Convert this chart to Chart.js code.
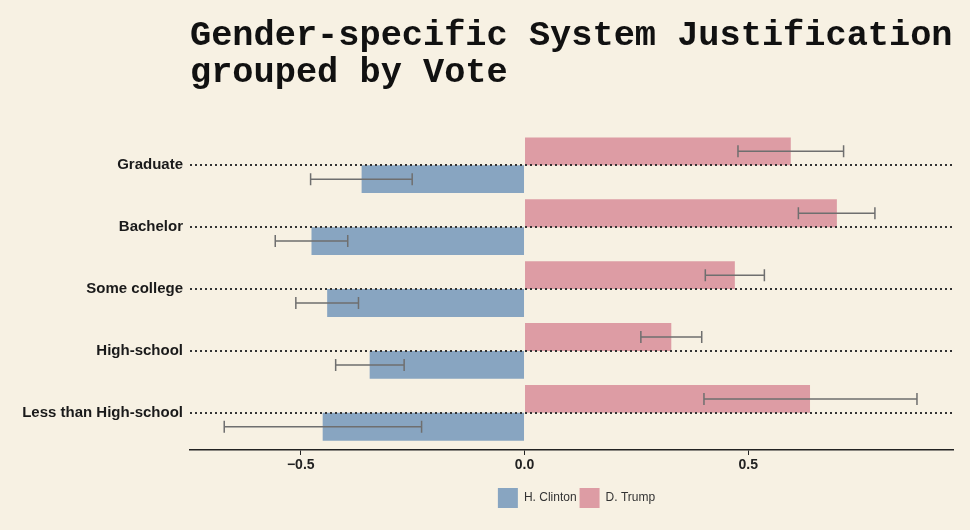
<!DOCTYPE html>
<html><head><meta charset="utf-8">
<script src="https://cdn.jsdelivr.net/npm/chart.js@4"></script>
<style>
html,body{margin:0;padding:0;background:#f7f1e3;}
canvas{display:block}
</style></head><body>
<canvas id="c" width="970" height="530"></canvas>
<script>
const categories = ['Graduate', 'Bachelor', 'Some college', 'High-school', 'Less than High-school'];
const seriesNames = ['H. Clinton', 'D. Trump'];
const clintonValues = [-0.364, -0.476, -0.441, -0.346, -0.451];
const clintonLower  = [-0.478, -0.557, -0.511, -0.422, -0.671];
const clintonUpper  = [-0.251, -0.395, -0.371, -0.269, -0.230];
const trumpValues   = [0.595, 0.698, 0.470, 0.328, 0.638];
const trumpLower    = [0.477, 0.612, 0.404, 0.260, 0.401];
const trumpUpper    = [0.713, 0.783, 0.536, 0.396, 0.877];
const xTicks = [-0.5, 0, 0.5];
const titleLines = ['Gender-specific System Justification', 'grouped by Vote'];

const BG = '#f7f1e3';
const errorRanges = [[trumpLower, trumpUpper], [clintonLower, clintonUpper]];

const bgPlugin = {
  id: 'bg',
  beforeDraw(chart) {
    const ctx = chart.ctx;
    ctx.save();
    ctx.fillStyle = BG;
    ctx.fillRect(0, 0, chart.width, chart.height);
    ctx.restore();
  }
};

const alignPlugin = {
  id: 'alignBoxes',
  afterLayout(chart) {
    const ca = chart.chartArea;
    const t = chart.titleBlock;
    if (t) { t.left = ca.left; t.right = chart.width; t.width = t.right - t.left; }
    const l = chart.legend;
    if (l) { l.left = ca.left + 5; l.right = ca.right + 5; l.width = ca.right - ca.left; }
  }
};

const errorPlugin = {
  id: 'errorBars',
  afterDatasetsDraw(chart) {
    const ctx = chart.ctx;
    const xs = chart.scales.x;
    ctx.save();
    ctx.strokeStyle = '#6f6f6f';
    ctx.lineWidth = 1.5;
    chart.data.datasets.forEach((ds, d) => {
      const meta = chart.getDatasetMeta(d);
      const [lo, hi] = errorRanges[d];
      meta.data.forEach((el, i) => {
        const y = el.y;
        const x1 = xs.getPixelForValue(lo[i]);
        const x2 = xs.getPixelForValue(hi[i]);
        ctx.beginPath();
        ctx.moveTo(x1, y); ctx.lineTo(x2, y);
        ctx.moveTo(x1, y - 6); ctx.lineTo(x1, y + 6);
        ctx.moveTo(x2, y - 6); ctx.lineTo(x2, y + 6);
        ctx.stroke();
      });
    });
    ctx.restore();
  }
};

new Chart(document.getElementById('c'), {
  type: 'bar',
  data: {
    datasets: [
      {
        label: seriesNames[1],
        data: trumpValues.map((v, i) => ({x: v, y: i})),
        backgroundColor: '#dd9ca4',
        borderWidth: 0
      },
      {
        label: seriesNames[0],
        data: clintonValues.map((v, i) => ({x: v, y: i})),
        backgroundColor: '#88a5c1',
        borderWidth: 0
      }
    ]
  },
  options: {
    indexAxis: 'y',
    responsive: false,
    animation: false,
    devicePixelRatio: 1,
    categoryPercentage: 0.9,
    barPercentage: 1.0,
    layout: {padding: {left: 0, right: 17, top: 0, bottom: 12}},
    plugins: {
      title: {
        display: true,
        text: titleLines,
        align: 'start',
        color: '#111',
        font: {family: "'Liberation Mono', 'Courier New', monospace", size: 35.3, weight: 'bold', lineHeight: 1.05},
        padding: {top: 18, bottom: 36}
      },
      legend: {
        position: 'bottom',
        align: 'center',
        labels: {
          boxWidth: 20,
          boxHeight: 20,
          padding: 3,
          color: '#333',
          font: {family: "'Liberation Sans', Arial, sans-serif", size: 12},
          sort: (a, b) => b.datasetIndex - a.datasetIndex
        }
      },
      tooltip: {enabled: false}
    },
    scales: {
      x: {
        type: 'linear',
        min: -0.7475,
        max: 0.9575,
        afterBuildTicks: s => { s.ticks = xTicks.map(v => ({value: v})); },
        afterFit: s => { s.height = 35; },
        ticks: {
          callback: v => (v < 0 ? '\u2212' : '') + Math.abs(v).toFixed(1),
          color: '#222',
          font: {family: "'Liberation Sans', Arial, sans-serif", size: 14, weight: 'bold'},
          padding: 2,
          maxRotation: 0
        },
        grid: {drawOnChartArea: false, drawTicks: true, tickLength: 5, color: '#222', lineWidth: 1},
        border: {display: true, color: '#222', width: 1.5}
      },
      y: {
        type: 'linear',
        reverse: true,
        offset: false,
        min: -0.6,
        max: 4.6,
        afterBuildTicks: s => { s.ticks = categories.map((c, i) => ({value: i})); },
        afterFit: s => { s.width = 190; },
        ticks: {
          callback: v => categories[v],
          color: '#1a1a1a',
          font: {family: "'Liberation Sans', Arial, sans-serif", size: 15, weight: 'bold'},
          padding: 7
        },
        grid: {offset: false, drawTicks: false, color: '#333', lineWidth: 2, z: 1},
        border: {display: false, dash: [2, 3]}
      }
    }
  },
  plugins: [bgPlugin, alignPlugin, errorPlugin]
});
</script>
</body></html>
